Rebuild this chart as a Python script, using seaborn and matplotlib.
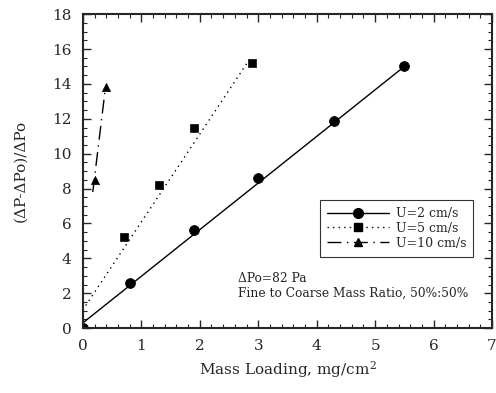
import matplotlib
matplotlib.use('Agg')
import matplotlib.pyplot as plt
import seaborn as sns
from matplotlib.lines import Line2D
from matplotlib.ticker import MultipleLocator

# Data
u2_x = [0.0, 0.8, 1.9, 3.0, 4.3, 5.5]
u2_y = [0.0, 2.6, 5.6, 8.6, 11.9, 15.0]
u5_x = [0.7, 1.3, 1.9, 2.9]
u5_y = [5.2, 8.2, 11.5, 15.2]
u10_x = [0.2, 0.4]
u10_y = [8.5, 13.8]

# fitted lines (end points)
fit2_x = [0.0, 5.5]
fit2_y = [0.3, 15.0]
fit5_x = [0.05, 2.85]
fit5_y = [1.3, 15.4]
fit10_x = [0.17, 0.38]
fit10_y = [7.8, 13.6]

labels = ['U=2 cm/s', 'U=5 cm/s', 'U=10 cm/s']

sns.set_style('ticks')
plt.rcParams['font.family'] = ['DejaVu Serif']
plt.rcParams['mathtext.fontset'] = 'dejavuserif'

fig = plt.figure(figsize=(4.96, 3.93), dpi=100)
ax = fig.add_axes([0.167, 0.165, 0.825, 0.799])

sns.lineplot(x=fit2_x, y=fit2_y, ax=ax, color='black', lw=1.0, linestyle='-')
sns.lineplot(x=fit5_x, y=fit5_y, ax=ax, color='black', lw=1.0, linestyle=(0, (1, 3)))
sns.lineplot(x=fit10_x, y=fit10_y, ax=ax, color='black', lw=1.0, linestyle=(0, (10, 4, 1, 4)))

sns.scatterplot(x=u2_x, y=u2_y, ax=ax, color='black', marker='o', s=50, edgecolor='black')
sns.scatterplot(x=u5_x, y=u5_y, ax=ax, color='black', marker='s', s=35, edgecolor='black')
sns.scatterplot(x=u10_x, y=u10_y, ax=ax, color='black', marker='^', s=35, edgecolor='black')

ax.set_xlim(0, 7)
ax.set_ylim(0, 18)
ax.xaxis.set_major_locator(MultipleLocator(1))
ax.xaxis.set_minor_locator(MultipleLocator(0.2))
ax.yaxis.set_major_locator(MultipleLocator(2))
ax.yaxis.set_minor_locator(MultipleLocator(0.5))
ax.tick_params(which='both', direction='in', top=True, right=True)
ax.tick_params(which='major', length=6, width=1, labelsize=11, pad=8)
ax.tick_params(which='minor', length=3, width=0.8)
for s in ax.spines.values():
    s.set_linewidth(1.5)

ax.set_xlabel('Mass Loading, mg/cm$^2$', fontsize=11)
ax.set_ylabel('(ΔP-ΔPo)/ΔPo', fontsize=11, labelpad=18)

handles = [
    Line2D([], [], color='black', lw=1.0, ls='-', marker='o', markersize=7),
    Line2D([], [], color='black', lw=1.0, ls=(0, (1, 3)), marker='s', markersize=6),
    Line2D([], [], color='black', lw=1.0, ls=(0, (10, 4, 1, 4)), marker='^', markersize=6),
]
leg = ax.legend(handles, labels, loc='upper left', bbox_to_anchor=(0.579, 0.408),
                fontsize=9, frameon=True, fancybox=False, edgecolor='black',
                handlelength=5, borderpad=0.55, labelspacing=0.15, handletextpad=0.55,
                borderaxespad=0)
leg.get_frame().set_linewidth(0.8)

ax.text(2.65, 3.2, 'ΔPo=82 Pa\nFine to Coarse Mass Ratio, 50%:50%',
        fontsize=8.8, va='top', ha='left', linespacing=1.1)

fig.savefig('out.png', dpi=100)
